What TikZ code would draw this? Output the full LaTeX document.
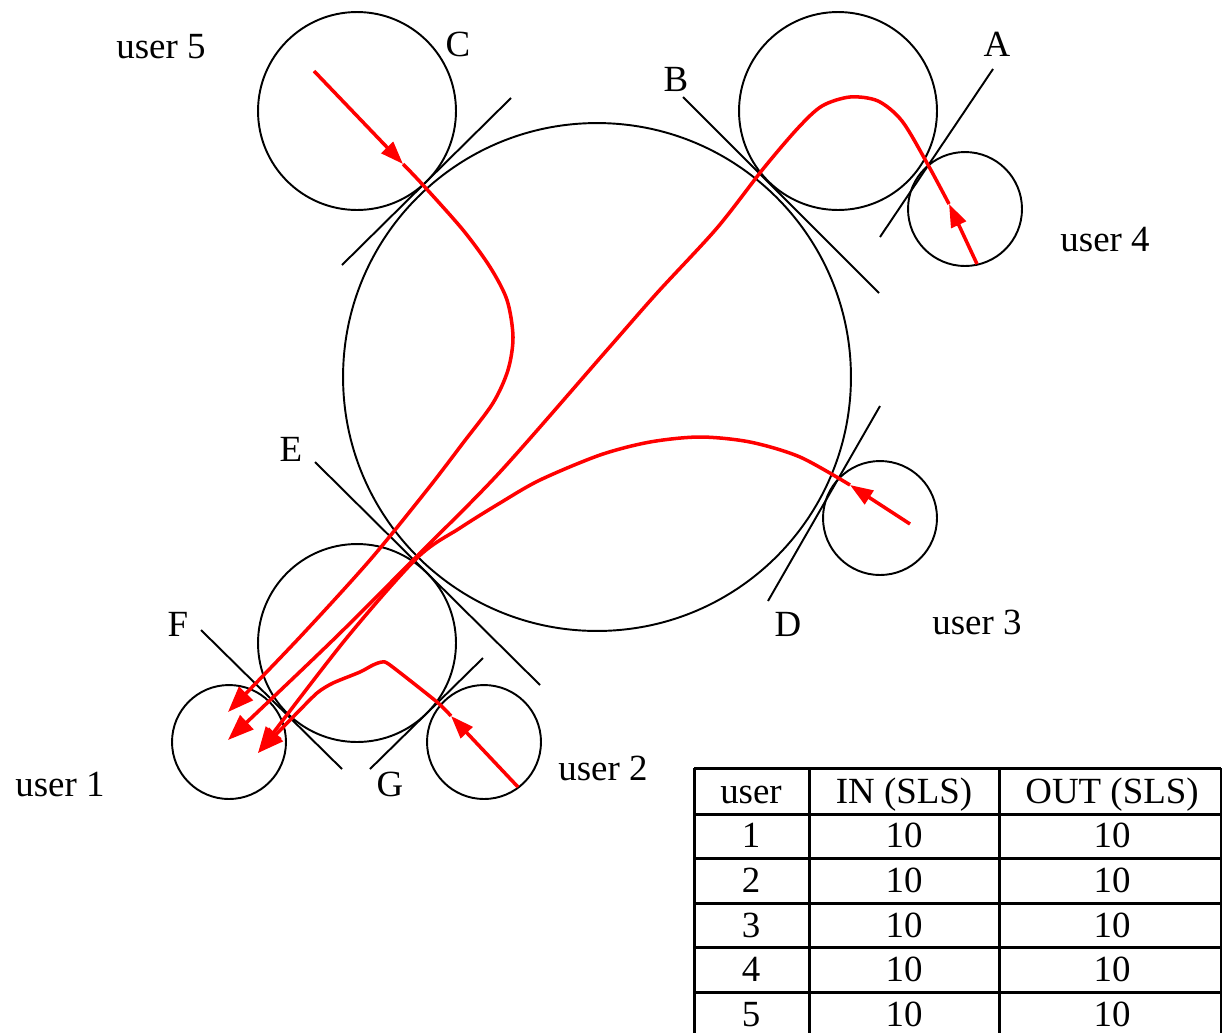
\documentclass[tikz,border=0pt]{standalone}
\usepackage{fontspec}
\setmainfont{Liberation Serif}
\usetikzlibrary{arrows.meta}

\tikzset{
  ring/.style={draw, circle, inner sep=0pt, line width=1.1pt},
  tangent/.style={line width=1.1pt},
  flow/.style={red, line width=2pt, -{Triangle[length=0.52cm, width=0.38cm]}},
  midflow/.style={red, line width=2pt, -{Triangle[length=0.46cm, width=0.32cm]}},
  lbl/.style={font=\fontsize{21}{25}\selectfont, inner sep=0pt, text height=0.68em, text depth=0pt, yshift=-0.12cm},
  grid/.style={line width=1.7pt}
}

\begin{document}
\begin{tikzpicture}[x=0.02cm, y=-0.02cm]
  \useasboundingbox (0,0) rectangle (1222,1032);

  % Circles
  \node[ring, minimum size=10.16cm] (hub) at (597,377) {};
  \node[ring, minimum size=3.96cm] (ringC) at (357,111) {};
  \node[ring, minimum size=3.96cm] (ringB) at (838,111) {};
  \node[ring, minimum size=3.96cm] (ringE) at (357,643) {};
  \node[ring, minimum size=2.28cm] (user4) at (965,209) {};
  \node[ring, minimum size=2.28cm] (user3) at (880,518) {};
  \node[ring, minimum size=2.28cm] (user1) at (229,742) {};
  \node[ring, minimum size=2.28cm] (user2) at (484,742) {};

  % Tangent lines
  \draw[tangent] (342,265) -- (511,98);   % C
  \draw[tangent] (683,97) -- (879,293);   % B
  \draw[tangent] (993,69) -- (880,237);   % A
  \draw[tangent] (880,406) -- (768,601);  % D
  \draw[tangent] (315,462) -- (540,685);  % E
  \draw[tangent] (201,630) -- (342,769);  % F
  \draw[tangent] (370,769) -- (483,658);  % G

  % Labels
  \node[lbl] (labA) at (997,45) {A};
  \node[lbl] (labB) at (676,80) {B};
  \node[lbl] (labC) at (458,45) {C};
  \node[lbl] (labD) at (788,625) {D};
  \node[lbl] (labE) at (291,450) {E};
  \node[lbl] (labF) at (178,625) {F};
  \node[lbl] (labG) at (390,785) {G};
  \node[lbl] (nameU1) at (60,785) {user 1};
  \node[lbl] (nameU2) at (603,769) {user 2};
  \node[lbl] (nameU3) at (977,623) {user 3};
  \node[lbl] (nameU4) at (1105,240) {user 4};
  \node[lbl] (nameU5) at (161,47) {user 5};

  % Traffic into user 1
  \coordinate (in5) at (314,71);  \coordinate (turn5) at (403,164);
  \coordinate (in4) at (977,264); \coordinate (turn4) at (949,204);
  \coordinate (in3) at (910,524); \coordinate (turn3) at (850,485);
  \coordinate (in2) at (518,787); \coordinate (turn2) at (451,716);
  \coordinate (out5) at (228,712);
  \coordinate (out4) at (228,740);
  \coordinate (out3) at (258,753);

  \draw[midflow] (in5) -- (turn5);
  \draw[flow] plot[smooth] coordinates {(turn5) (423,185) (463,230) (490,267) (507,300)
    (513,337) (508,370) (493,403) (463,443) (427,490) (370,560) (300,637) (out5)};

  \draw[midflow] (in4) -- (turn4);
  \draw[flow] plot[smooth] coordinates {(turn4) (927,163) (902,121) (878,101) (850,97)
    (822,106) (798,128) (763,169) (717,228) (657,293) (607,350) (500,472) (417,556)
    (333,640) (out4)};

  \draw[midflow] (in3) -- (turn3);
  \draw[flow] plot[smooth] coordinates {(turn3) (800,457) (750,442) (700,437) (650,442)
    (600,455) (540,480) (500,503) (460,528) (417,558) (345,640) (out3)};

  \draw[midflow] (in2) -- (turn2);
  \draw[flow] plot[smooth, tension=0.4] coordinates {(turn2) (437,702) (390,665) (382,662)
    (373,665) (360,672) (333,683) (317,693) (293,717) (out3)};

  % Table
  \foreach \y in {768,814,858,903,947,992}
    \draw[grid] (694,\y) -- (1221,\y);
  \foreach \x in {694,809,999,1221}
    \draw[grid] (\x,768) -- (\x,1040);
  \node[lbl] (headUser) at (751,792) {user};
  \node[lbl] (headIn) at (904,792) {IN (SLS)};
  \node[lbl] (headOut) at (1112,792) {OUT (SLS)};
  \foreach \n in {1,...,5} {
    \node[lbl] (user\n) at (751,{791+44.7*\n}) {\n};
    \node[lbl] (in\n) at (904,{791+44.7*\n}) {10};
    \node[lbl] (out\n) at (1112,{791+44.7*\n}) {10};
  }
\end{tikzpicture}
\end{document}
